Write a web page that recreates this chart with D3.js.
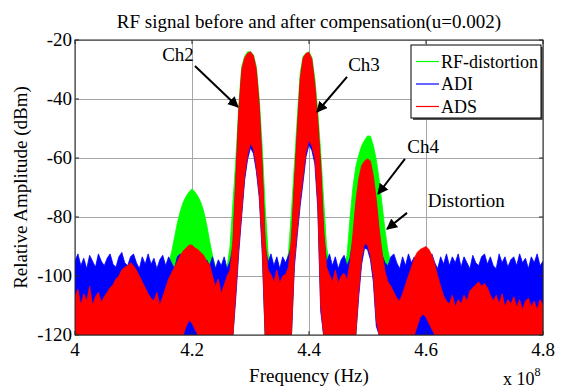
<!DOCTYPE html>
<html>
<head>
<meta charset="utf-8">
<script src="https://cdn.jsdelivr.net/npm/d3@7/dist/d3.min.js"></script>
<style>
  body { margin: 0; background: #fff; }
  svg, svg text { font-family: "Liberation Serif", "Times New Roman", Times, serif; }
  svg { display: block; }
</style>
</head>
<body>
<div id="chart"></div>
<script>
// frequency grid, x 10^8 Hz
const freq = [
  4.000, 4.005, 4.010, 4.015, 4.020, 4.025, 4.030, 4.035, 4.040, 4.045,
  4.050, 4.055, 4.060, 4.065, 4.070, 4.075, 4.080, 4.085, 4.090, 4.095,
  4.100, 4.105, 4.110, 4.115, 4.120, 4.125, 4.130, 4.135, 4.140, 4.145,
  4.150, 4.155, 4.160, 4.165, 4.170, 4.175, 4.180, 4.185, 4.190, 4.195,
  4.200, 4.205, 4.210, 4.215, 4.220, 4.225, 4.230, 4.235, 4.240, 4.245,
  4.250, 4.255, 4.260, 4.265, 4.270, 4.275, 4.280, 4.285, 4.290, 4.295,
  4.300, 4.305, 4.310, 4.315, 4.320, 4.325, 4.330, 4.335, 4.340, 4.345,
  4.350, 4.355, 4.360, 4.365, 4.370, 4.375, 4.380, 4.385, 4.390, 4.395,
  4.400, 4.405, 4.410, 4.415, 4.420, 4.425, 4.430, 4.435, 4.440, 4.445,
  4.450, 4.455, 4.460, 4.465, 4.470, 4.475, 4.480, 4.485, 4.490, 4.495,
  4.500, 4.505, 4.510, 4.515, 4.520, 4.525, 4.530, 4.535, 4.540, 4.545,
  4.550, 4.555, 4.560, 4.565, 4.570, 4.575, 4.580, 4.585, 4.590, 4.595,
  4.600, 4.605, 4.610, 4.615, 4.620, 4.625, 4.630, 4.635, 4.640, 4.645,
  4.650, 4.655, 4.660, 4.665, 4.670, 4.675, 4.680, 4.685, 4.690, 4.695,
  4.700, 4.705, 4.710, 4.715, 4.720, 4.725, 4.730, 4.735, 4.740, 4.745,
  4.750, 4.755, 4.760, 4.765, 4.770, 4.775, 4.780, 4.785, 4.790, 4.795,
  4.800
];

// RF-distortion: upper / lower envelope (dBm)
const rfTop = [
  -98, -99.5, -98.5, -100, -98, -99, -100.5, -98, -99, -98.5,
  -100, -98, -99.5, -98.5, -99, -100, -98, -99.5, -98, -99,
  -98.5, -100, -98, -99, -100.5, -98.5, -99, -98, -100, -99,
  -99, -98, -96, -92, -87, -82, -78, -75, -73, -71.5,
  -70.5, -71.5, -73, -75, -78, -82.5, -88, -93, -97, -99,
  -98, -99, -97, -90, -75, -60, -42, -29, -25.5, -24,
  -24, -25, -29, -40, -56, -76, -92, -97, -99, -98,
  -99, -98, -97, -92, -78, -62, -46, -31, -25.5, -24.5,
  -24, -26, -33, -44, -58, -74, -90, -96, -99, -98,
  -99, -97, -96, -93, -80.7, -70, -63, -59, -55.8, -54,
  -52.5, -52.6, -55.8, -60.5, -67.5, -76, -84.5, -91.5, -96, -98,
  -99, -98, -100, -98.5, -99, -98, -100, -99, -98, -99.5,
  -98, -99, -100, -98.5, -99, -98, -99.5, -100, -98, -99,
  -98.5, -100, -98, -99, -98.5, -100, -99, -98, -99.5, -98,
  -99, -98, -100, -98.5, -99, -98, -99.5, -98, -100, -99,
  -98, -99.5, -98, -99, -100, -98.5, -99, -98, -99.5, -98,
  -99
];
const rfLow = [
  -120, -120, -120, -120, -120, -120, -120, -120, -120, -120,
  -120, -120, -120, -120, -120, -120, -120, -120, -120, -120,
  -120, -120, -120, -120, -120, -120, -120, -120, -120, -120,
  -120, -120, -120, -120, -120, -120, -120, -120, -120, -120,
  -120, -120, -120, -120, -120, -120, -120, -120, -120, -120,
  -120, -120, -120, -120, -120, -103, -88, -76, -64, -57,
  -53, -55, -61, -70, -88, -120, -120, -120, -120, -120,
  -120, -120, -120, -120, -120, -93, -82, -72, -64, -56,
  -52, -54, -58, -73, -108, -120, -120, -120, -120, -120,
  -120, -120, -120, -120, -120, -120, -120, -103, -92, -87,
  -87.5, -91, -98, -113, -120, -120, -120, -120, -120, -120,
  -120, -120, -120, -120, -120, -120, -120, -120, -120, -120,
  -120, -120, -120, -120, -120, -120, -120, -120, -120, -120,
  -120, -120, -120, -120, -120, -120, -120, -120, -120, -120,
  -120, -120, -120, -120, -120, -120, -120, -120, -120, -120,
  -120, -120, -120, -120, -120, -120, -120, -120, -120, -120,
  -120
];

// ADI
const adiTop = [
  -95, -92.5, -96.5, -94, -97.5, -93, -95, -97, -92.5, -95,
  -96.5, -94, -92.5, -96, -97, -93.5, -92, -95.5, -96.5, -93.5,
  -92.5, -95.5, -97.5, -93.5, -96, -92.5, -96, -94, -97.5, -94.5,
  -93, -96.5, -93.5, -95.5, -97.5, -93.5, -92.5, -95.5, -96.5, -93.5,
  -95, -93, -96.5, -93.5, -97.5, -94.5, -96.5, -93.5, -97.5, -94.5,
  -96.5, -93.5, -97.5, -95, -90, -68, -46, -32, -27, -25.5,
  -25, -26.5, -32, -44, -64, -90, -95.5, -92.5, -96.5, -93.5,
  -97.5, -93.5, -95.5, -93, -90, -70, -52, -35, -27, -25.5,
  -25.5, -28, -37, -49, -64, -86, -95.5, -92.5, -96.5, -93.5,
  -97.5, -94.5, -93, -96.5, -94, -88, -77, -69, -64, -62.5,
  -62, -63, -68, -76, -86, -93, -95.5, -96.5, -93.5, -92.5,
  -95.5, -97.5, -93.5, -96.5, -92.5, -95.5, -93.5, -96.5, -93, -95.5,
  -93.5, -96.5, -92.5, -95.5, -97.5, -93.5, -96, -92.5, -96.5, -93.5,
  -95.5, -92.5, -97, -93.5, -95.5, -97.5, -93, -95.5, -96.5, -93.5,
  -92.5, -96, -93.5, -96.5, -97.5, -92.5, -95.5, -93.5, -97, -94.5,
  -93.5, -96.5, -92.5, -95.5, -94, -97.5, -93.5, -95.5, -92.5, -96.5,
  -95
];
const adiLow = [
  -120, -120, -120, -120, -120, -120, -120, -120, -120, -120,
  -120, -120, -120, -120, -120, -120, -120, -120, -120, -120,
  -120, -120, -120, -120, -120, -120, -120, -120, -120, -120,
  -120, -120, -120, -120, -120, -120, -120, -120, -120, -120,
  -120, -120, -120, -120, -120, -120, -120, -120, -120, -120,
  -120, -120, -120, -120, -120, -107, -92, -79.5, -67.5, -60.5,
  -56.5, -58.5, -64.5, -73.5, -92, -120, -120, -120, -120, -120,
  -120, -120, -120, -120, -120, -97, -86, -76, -68, -59.5,
  -55.5, -57.5, -62, -77, -112, -120, -120, -120, -120, -120,
  -120, -120, -120, -120, -120, -120, -120, -107, -96, -90.5,
  -91, -94.5, -102, -117, -120, -120, -120, -120, -120, -120,
  -120, -120, -120, -120, -120, -120, -120, -120, -120, -120,
  -120, -120, -120, -120, -120, -120, -120, -120, -120, -120,
  -120, -120, -120, -120, -120, -120, -120, -120, -120, -120,
  -120, -120, -120, -120, -120, -120, -120, -120, -120, -120,
  -120, -120, -120, -120, -120, -120, -120, -120, -120, -120,
  -120
];

// ADS
const adsTop = [
  -107, -104.5, -110, -106, -108.5, -103.5, -110, -107, -105.5, -109,
  -107, -105.5, -104, -103, -101, -100, -98, -97, -96.5, -95.5,
  -96.5, -98, -100, -102, -104, -106, -107.5, -108.5, -105.5, -110,
  -107, -104, -101, -99, -97, -95, -93, -91.5, -90.5, -89.5,
  -89.5, -90.5, -91, -92, -93, -95, -96, -100, -103.5, -101,
  -106, -103, -100, -98, -88, -66, -44, -30, -26, -24.5,
  -24, -25.3, -30, -42, -62, -88, -98, -99.5, -102, -98,
  -102.5, -100, -99.5, -97, -87, -68, -50, -33, -26, -24.5,
  -24.2, -26.5, -35, -47, -62, -84, -97, -99.5, -102, -98,
  -102.5, -100, -99, -101.5, -95.5, -86, -75, -67, -62.5, -61,
  -60.3, -61, -66, -74, -84, -92, -98.5, -102, -103.5, -105.5,
  -107.5, -108.5, -106, -103, -100, -97, -94, -92, -91, -90.5,
  -90, -91, -93, -96, -100, -103.5, -106.7, -108.5, -109.5, -106.5,
  -110.5, -108, -109.5, -106.5, -108.5, -105, -104, -103, -102, -103.5,
  -102.5, -104, -106.5, -108.5, -106.5, -109.5, -106, -110.5, -108, -109.5,
  -107, -110.5, -108, -111.5, -108.5, -107.5, -110.5, -108.5, -111.5, -108,
  -110
];
const adsLow = [
  -120, -120, -120, -120, -120, -120, -120, -120, -120, -120,
  -120, -120, -120, -120, -120, -120, -120, -120, -120, -120,
  -120, -120, -120, -120, -120, -120, -120, -120, -120, -120,
  -120, -120, -120, -120, -120, -120, -120, -120, -117, -115,
  -116, -118, -120, -120, -120, -120, -120, -120, -120, -120,
  -120, -120, -120, -120, -120, -105, -90, -78, -66, -59,
  -55, -57, -63, -72, -90, -120, -120, -120, -120, -120,
  -120, -120, -120, -120, -120, -95, -84, -74, -66, -58,
  -54, -56, -60, -75, -110, -120, -120, -120, -120, -120,
  -120, -120, -120, -120, -120, -120, -120, -105, -94, -89,
  -89.5, -93, -100, -115, -120, -120, -120, -120, -120, -120,
  -120, -120, -120, -120, -120, -120, -120, -117, -114, -113,
  -114, -116, -118, -120, -120, -120, -120, -120, -120, -120,
  -120, -120, -120, -120, -120, -120, -120, -120, -120, -120,
  -120, -120, -120, -120, -120, -120, -120, -120, -120, -120,
  -120, -120, -120, -120, -120, -120, -120, -120, -120, -120,
  -120
];

const seriesNames = ['RF-distortion', 'ADI', 'ADS'];
const seriesColors = ['#00ff00', '#0000ff', '#ff0000'];
const xTicks = [4, 4.2, 4.4, 4.6, 4.8];
const yTicks = [-20, -40, -60, -80, -100, -120];

// annotations in data space: label start/baseline, arrow tail, arrow tip
const noteText = ['Ch2', 'Ch3', 'Ch4', 'Distortion'];
const noteAt = [[4.149, -27.1], [4.467, -30.5], [4.568, -58.3], [4.603, -76.6]];
const noteFrom = [[4.205, -28.8], [4.465, -32.5], [4.564, -60.3], [4.5675, -78.6]];
const noteTo = [[4.2786, -42.7], [4.4137, -44.4], [4.518, -72.2], [4.5333, -84.1]];

const serif = '"Liberation Serif", "Times New Roman", Times, serif';
const width = 563;
const height = 390;
const margin = { top: 40, right: 20, bottom: 55, left: 75 };

const svg = d3.select('#chart').append('svg')
  .attr('width', width)
  .attr('height', height)
  .attr('viewBox', `0 0 ${width} ${height}`)
  .attr('font-family', serif);

const x = d3.scaleLinear().domain([4, 4.8]).range([margin.left, width - margin.right]);
const y = d3.scaleLinear().domain([-120, -20]).range([height - margin.bottom, margin.top]);

const defs = svg.append('defs');
defs.append('clipPath').attr('id', 'plotClip')
  .append('rect')
  .attr('x', margin.left).attr('y', margin.top)
  .attr('width', x(4.8) - x(4)).attr('height', y(-120) - y(-20));
defs.append('marker')
  .attr('id', 'arrowHead')
  .attr('viewBox', '0 0 10 10')
  .attr('refX', 9).attr('refY', 5)
  .attr('markerWidth', 5.5).attr('markerHeight', 5.5)
  .attr('markerUnits', 'strokeWidth')
  .attr('orient', 'auto')
  .append('path')
  .attr('d', 'M0,0 L10,5 L0,10 Z')
  .attr('fill', '#000');

// grid
svg.append('g')
  .attr('transform', `translate(0,${y(-120)})`)
  .call(d3.axisBottom(x).tickValues(xTicks).tickSize(-(y(-120) - y(-20))).tickFormat(''))
  .call((g) => g.select('.domain').remove())
  .call((g) => g.selectAll('line').attr('stroke', '#a6a6a6'));
svg.append('g')
  .attr('transform', `translate(${margin.left},0)`)
  .call(d3.axisLeft(y).tickValues(yTicks).tickSize(-(x(4.8) - x(4))).tickFormat(''))
  .call((g) => g.select('.domain').remove())
  .call((g) => g.selectAll('line').attr('stroke', '#a6a6a6'));

// spectra, drawn in plot order: RF-distortion, ADI, ADS
const series = [
  { top: rfTop, low: rfLow },
  { top: adiTop, low: adiLow },
  { top: adsTop, low: adsLow }
];
const area = d3.area()
  .x((d) => x(d.f))
  .y0((d) => y(d.lo))
  .y1((d) => y(d.hi));

const plot = svg.append('g').attr('clip-path', 'url(#plotClip)');
series.forEach((s, k) => {
  const pts = freq.map((f, i) => ({ f, hi: s.top[i], lo: s.low[i] }));
  plot.append('path')
    .datum(pts)
    .attr('d', area)
    .attr('fill', seriesColors[k])
    .attr('stroke', seriesColors[k])
    .attr('stroke-width', 0.8)
    .attr('stroke-linejoin', 'bevel');
});

// box and ticks
const box = svg.append('g').attr('fill', 'none').attr('stroke', '#262626').attr('stroke-width', 1);
box.append('rect')
  .attr('x', x(4)).attr('y', y(-20))
  .attr('width', x(4.8) - x(4)).attr('height', y(-120) - y(-20));
xTicks.forEach((t) => {
  box.append('line').attr('x1', x(t)).attr('x2', x(t)).attr('y1', y(-120)).attr('y2', y(-120) - 4);
  box.append('line').attr('x1', x(t)).attr('x2', x(t)).attr('y1', y(-20)).attr('y2', y(-20) + 4);
});
yTicks.forEach((t) => {
  box.append('line').attr('x1', x(4)).attr('x2', x(4) + 4).attr('y1', y(t)).attr('y2', y(t));
  box.append('line').attr('x1', x(4.8)).attr('x2', x(4.8) - 4).attr('y1', y(t)).attr('y2', y(t));
});

// tick labels
svg.append('g').selectAll('text').data(xTicks).join('text')
  .attr('x', (d) => x(d))
  .attr('y', y(-120) + 21)
  .attr('text-anchor', 'middle')
  .attr('font-family', serif)
  .attr('font-size', 19)
  .text((d) => d3.format('~g')(d));
svg.append('g').selectAll('text').data(yTicks).join('text')
  .attr('x', x(4) - 3)
  .attr('y', (d) => y(d) + 6)
  .attr('text-anchor', 'end')
  .attr('font-family', serif)
  .attr('font-size', 19)
  .text((d) => d);

// titles
svg.append('text')
  .attr('x', (x(4) + x(4.8)) / 2).attr('y', 28)
  .attr('text-anchor', 'middle').attr('font-size', 19).attr('font-family', serif)
  .text('RF signal before and after compensation(u=0.002)');
svg.append('text')
  .attr('x', (x(4) + x(4.8)) / 2).attr('y', 382)
  .attr('text-anchor', 'middle').attr('font-size', 19).attr('font-family', serif)
  .text('Frequency (Hz)');
svg.append('text')
  .attr('transform', `translate(27,${(y(-20) + y(-120)) / 2}) rotate(-90)`)
  .attr('text-anchor', 'middle').attr('font-size', 19).attr('font-family', serif)
  .text('Relative Amplitude (dBm)');
const expo = svg.append('text').attr('x', 503).attr('y', 385).attr('font-size', 18).attr('font-family', serif);
expo.append('tspan').text('x 10');
expo.append('tspan').attr('dy', -9).attr('font-size', 12).text('8');

// annotations
const notes = svg.append('g');
noteText.forEach((t, i) => {
  notes.append('line')
    .attr('x1', x(noteFrom[i][0])).attr('y1', y(noteFrom[i][1]))
    .attr('x2', x(noteTo[i][0])).attr('y2', y(noteTo[i][1]))
    .attr('stroke', '#000').attr('stroke-width', 2)
    .attr('marker-end', 'url(#arrowHead)');
  notes.append('text')
    .attr('x', x(noteAt[i][0])).attr('y', y(noteAt[i][1]))
    .attr('font-size', 19).attr('font-family', serif)
    .text(t);
});

// legend
const legend = svg.append('g').attr('transform', 'translate(411,45)');
legend.append('rect').attr('x', 2).attr('y', 2).attr('width', 130).attr('height', 73).attr('fill', '#555');
legend.append('rect').attr('width', 130).attr('height', 73).attr('fill', '#fff').attr('stroke', '#000').attr('stroke-width', 1);
seriesNames.forEach((name, i) => {
  const ly = 16.5 + i * 22.5;
  legend.append('line')
    .attr('x1', 5).attr('x2', 28).attr('y1', ly).attr('y2', ly)
    .attr('stroke', seriesColors[i]).attr('stroke-width', 1.2);
  legend.append('text')
    .attr('x', 30).attr('y', ly + 6)
    .attr('font-size', 18).attr('font-family', serif)
    .text(name);
});
</script>
</body>
</html>
